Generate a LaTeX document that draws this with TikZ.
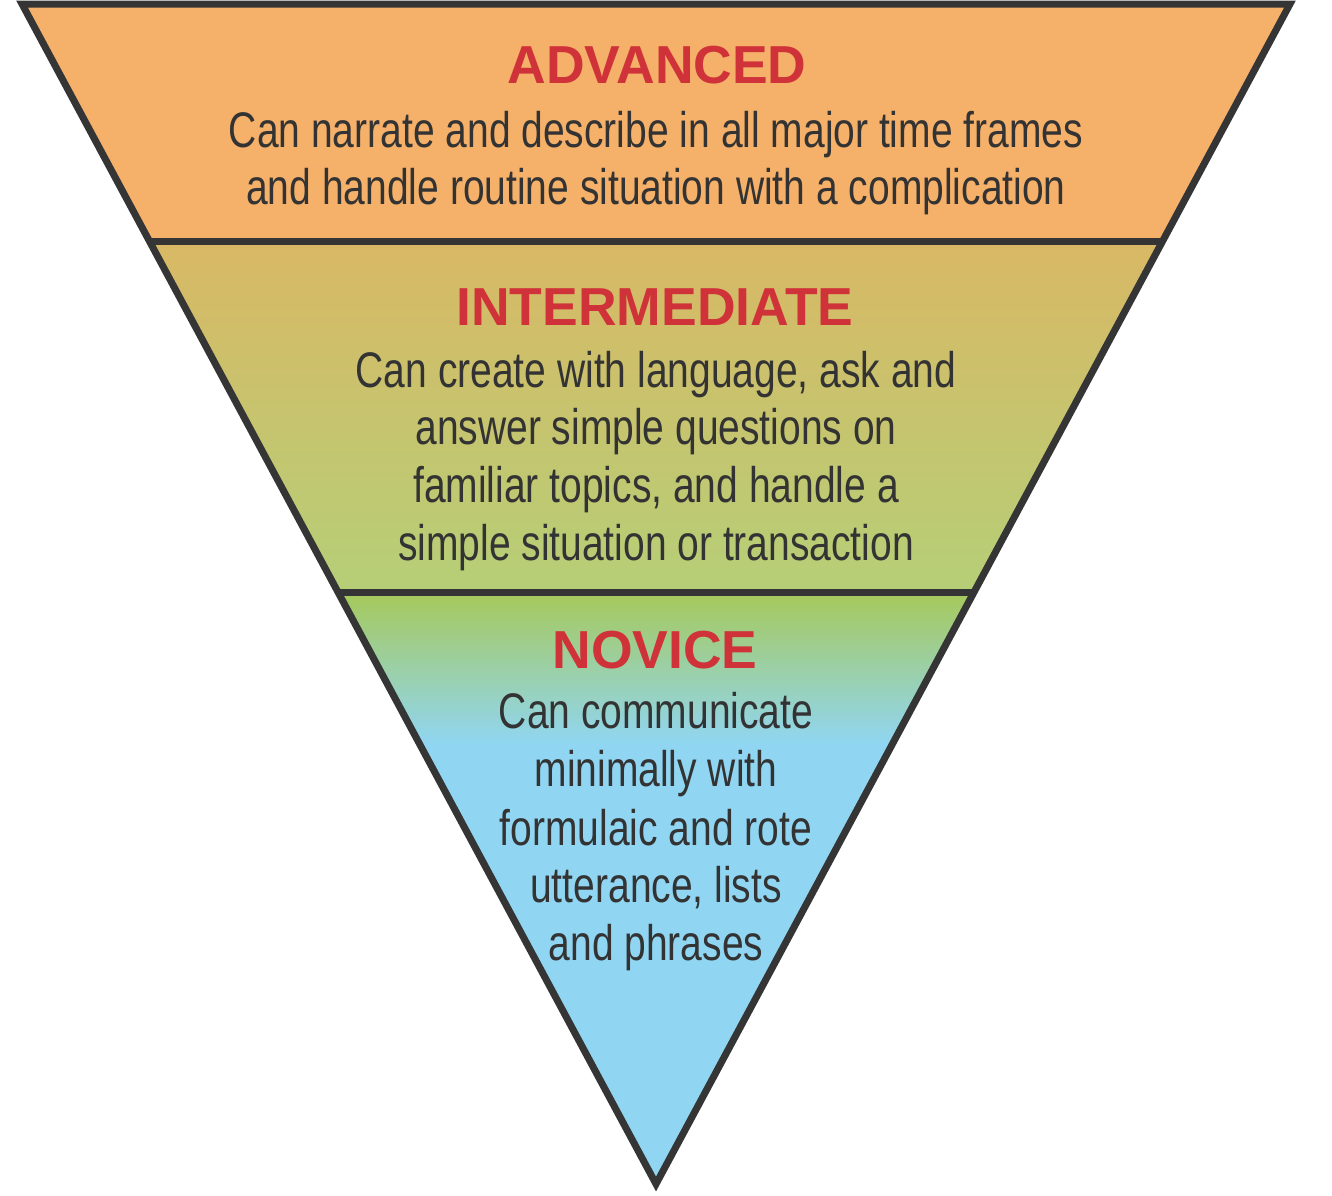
\documentclass[tikz,border=0pt]{standalone}
\usepackage{fontspec}
\setmainfont{Liberation Sans}
\newfontfamily\condfont[FakeStretch=0.78]{Liberation Sans}
\definecolor{edgecol}{HTML}{353535}
\definecolor{advcol}{HTML}{F5B06A}
\definecolor{midtop}{HTML}{D9B865}
\definecolor{midbot}{HTML}{B5CF77}
\definecolor{novtop}{HTML}{A6C95A}
\definecolor{novmid}{HTML}{96D2BE}
\definecolor{novblue}{HTML}{90D6F3}
\definecolor{titlered}{HTML}{CF3339}
\definecolor{bodygray}{HTML}{333333}
\begin{document}
\begin{tikzpicture}[x=1pt,y=-1pt,
  titletext/.style={anchor=base,inner sep=0pt,text=titlered,font=\bfseries\fontsize{53.5}{60}\selectfont},
  bodytext/.style={anchor=base,inner sep=0pt,text=bodygray,font=\condfont\fontsize{50}{57}\selectfont},
  edgeline/.style={draw=edgecol,line width=7pt,line join=miter}]
\useasboundingbox (0,0) rectangle (1332,1195);
\coordinate (TL) at (22,4);
\coordinate (TR) at (1290,4);
\coordinate (AP) at (656,1184);
\coordinate (L1) at (149.3,241);
\coordinate (R1) at (1162.7,241);
\coordinate (L2) at (337.9,592);
\coordinate (R2) at (974.1,592);
% fills
\fill[advcol] (TL) -- (TR) -- (R1) -- (L1) -- cycle;
\shade[top color=midtop,bottom color=midbot] (L1) -- (R1) -- (R2) -- (L2) -- cycle;
\fill[novblue] (L2) -- (R2) -- (AP) -- cycle;
\begin{scope}
  \clip (L2) -- (R2) -- (AP) -- cycle;
  \shade[top color=novtop,middle color=novmid,bottom color=novblue] (300,592) rectangle (1000,745);
\end{scope}
% outline
\draw[edgeline] (TL) -- (TR) -- (AP) -- cycle;
\draw[edgeline] (L1) -- (R1);
\draw[edgeline] (L2) -- (R2);
% texts
\node[titletext] (advT) at (657,83) {ADVANCED};
\node[bodytext] (adv1) at (656,147) {Can narrate and describe in all major time frames};
\node[bodytext] (adv2) at (656,204) {and handle routine situation with a complication};
\node[titletext] (intT) at (655,325) {INTERMEDIATE};
\node[bodytext] (int1) at (656,387) {Can create with language, ask and};
\node[bodytext] (int2) at (656,444) {answer simple questions on};
\node[bodytext] (int3) at (656,502) {familiar topics, and handle a};
\node[bodytext] (int4) at (656,560) {simple situation or transaction};
\node[titletext] (novT) at (655,668) {NOVICE};
\node[bodytext] (nov1) at (656,728) {Can communicate};
\node[bodytext] (nov2) at (656,786) {minimally with};
\node[bodytext] (nov3) at (656,845) {formulaic and rote};
\node[bodytext] (nov4) at (656,902) {utterance, lists};
\node[bodytext] (nov5) at (656,960) {and phrases};
\end{tikzpicture}
\end{document}
